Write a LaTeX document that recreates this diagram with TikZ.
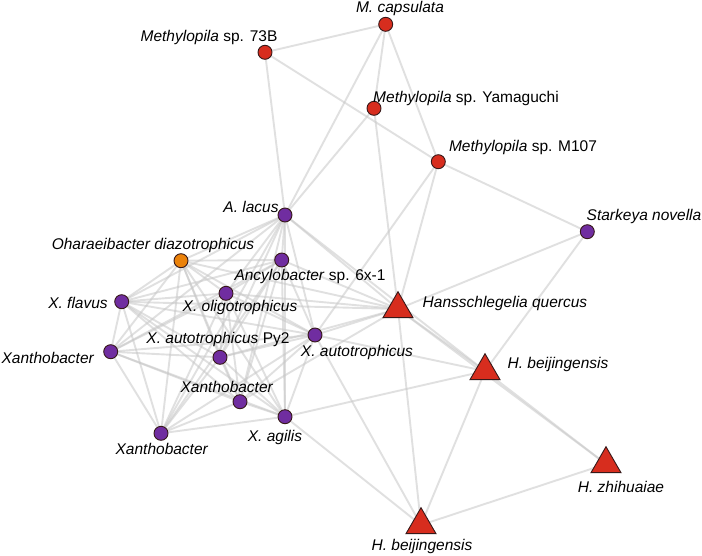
\documentclass[tikz,border=0pt]{standalone}
\usepackage{fontspec}
\setmainfont{Liberation Sans}
\usetikzlibrary{shapes.geometric}
\pgfdeclarelayer{bg}
\pgfsetlayers{bg,main}
\definecolor{nred}{RGB}{215,45,30}
\definecolor{npurple}{RGB}{112,45,160}
\definecolor{norange}{RGB}{235,130,10}
\definecolor{nborder}{RGB}{55,25,25}
\definecolor{edgegray}{RGB}{200,200,200}
\begin{document}
\begin{tikzpicture}[x=1pt,y=-1pt,
  font=\fontsize{15.5}{18}\selectfont,
  edge/.style={draw=edgegray, line width=1.9pt, opacity=0.55},
  dot/.style={circle, draw=nborder, line width=0.9pt, minimum size=14pt, inner sep=0pt},
  rdot/.style={dot, fill=nred},
  pdot/.style={dot, fill=npurple},
  odot/.style={dot, fill=norange},
  tri/.style={regular polygon, regular polygon sides=3, minimum size=34.6pt, inner sep=0pt, draw=nborder, line width=0.9pt, fill=nred},
  lab/.style={inner sep=0pt, anchor=center}]
\useasboundingbox (0,0) rectangle (702,555);
% nodes
\node[rdot] (Mc) at (385.7,24.3) {};
\node[rdot] (M73) at (265,52.3) {};
\node[rdot] (MY) at (374,108.3) {};
\node[rdot] (M107) at (438.3,161.7) {};
\node[pdot] (A) at (285,215) {};
\node[pdot] (N) at (281.7,260) {};
\node[pdot] (G) at (226,293.3) {};
\node[odot] (O) at (181,260.7) {};
\node[pdot] (F) at (121.7,301.7) {};
\node[pdot] (K1) at (110.7,351.7) {};
\node[pdot] (P) at (220,357.3) {};
\node[pdot] (U) at (315,335) {};
\node[pdot] (K2) at (240,401.7) {};
\node[pdot] (S) at (285,416.7) {};
\node[pdot] (K3) at (161,433.3) {};
\node[pdot] (T) at (587.3,231.7) {};
\node[tri] (Q) at (398,309) {};
\node[tri] (B1) at (485,371) {};
\node[tri] (Z) at (606,464) {};
\node[tri] (B2) at (421,525) {};
% labels
\node[lab] (lMc) at (400,8) {\textit{M. capsulata}};
\node[lab] (lM73) at (209,37.5) {\textit{Methylopila} sp. 73B};
\node[lab] (lMY) at (466,98.5) {\textit{Methylopila} sp. Yamaguchi};
\node[lab] (lM107) at (523,147.5) {\textit{Methylopila} sp. M107};
\node[lab] (lA) at (251,207) {\textit{A. lacus}};
\node[lab] (lO) at (153,245) {\textit{Oharaeibacter diazotrophicus}};
\node[lab] (lN) at (310,276.5) {\textit{Ancylobacter} sp. 6x-1};
\node[lab] (lT) at (644,216.5) {\textit{Starkeya novella}};
\node[lab] (lF) at (78,302.5) {\textit{X. flavus}};
\node[lab] (lG) at (240,307.5) {\textit{X. oligotrophicus}};
\node[lab] (lP) at (218,339.5) {\textit{X. autotrophicus} Py2};
\node[lab] (lK1) at (48,358) {\textit{Xanthobacter}};
\node[lab] (lK2) at (227,386.5) {\textit{Xanthobacter}};
\node[lab] (lS) at (275,437.5) {\textit{X. agilis}};
\node[lab] (lK3) at (162,448.5) {\textit{Xanthobacter}};
\node[lab] (lQ) at (505,303.5) {\textit{Hansschlegelia quercus}};
\node[lab] (lU) at (357,352.5) {\textit{X. autotrophicus}};
\node[lab] (lB1) at (558,364.5) {\textit{H. beijingensis}};
\node[lab] (lZ) at (621,486.5) {\textit{H. zhihuaiae}};
\node[lab] (lB2) at (422,546.5) {\textit{H. beijingensis}};
% edges
\begin{pgfonlayer}{bg}
\fill[white] (0,0) rectangle (702,555);
\foreach \a [count=\i] in {A,O,N,F,G,U,K1,P,K2,S,K3}{
  \foreach \b [count=\j] in {A,O,N,F,G,U,K1,P,K2,S,K3}{
    \ifnum\j>\i \draw[edge] (\a.center) -- (\b.center); \fi
  }
}
\foreach \a/\b in {Q/A,Q/N,Q/O,Q/F,Q/G,Q/P,Q/U,Q/K2,Q/MY,Q/M107,Q/T,Q/B1,Q/B2,Q/Z,
  U/B1,U/B2,S/B1,S/B2,B1/B2,B1/Z,B2/Z,T/B1,A/B1,
  M107/T,M107/U,MY/A,Mc/A,Mc/M73,Mc/MY,Mc/M107,M73/M107,M73/A}
  \draw[edge] (\a.center) -- (\b.center);
\end{pgfonlayer}
\end{tikzpicture}
\end{document}
